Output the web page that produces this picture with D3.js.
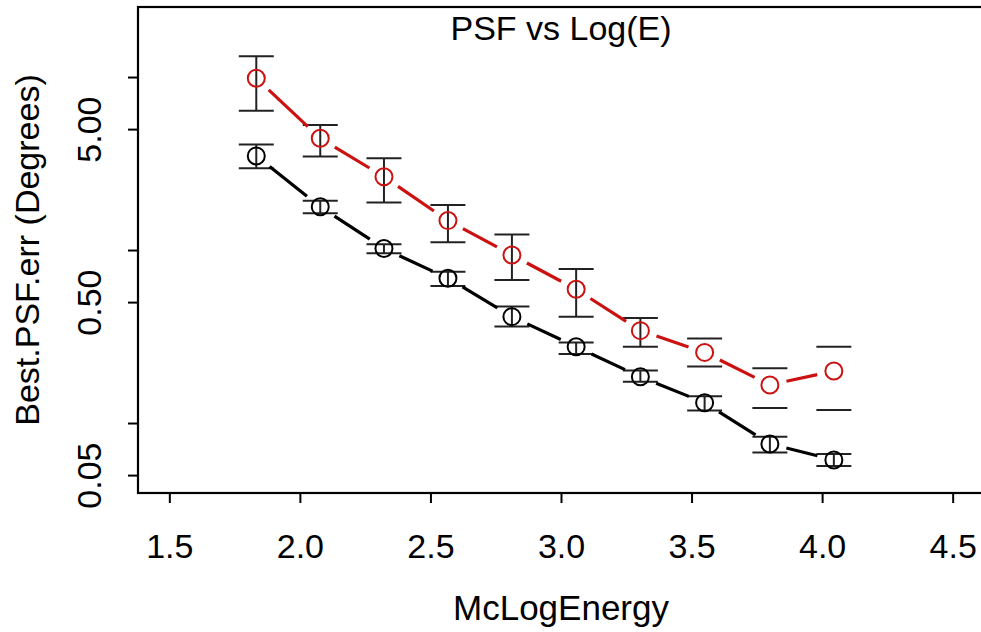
<!DOCTYPE html>
<html lang="en">
<head>
    <meta charset="UTF-8">
    <title>PSF vs Log(E)</title>
    <script src="https://d3js.org/d3.v7.min.js"></script>
    <style>
        body { margin: 0; background: #fff; }
        svg text { font-family: "Liberation Sans", Arial, sans-serif; fill: #000; }
    </style>
</head>
<body>
    <div id="chart"></div>

    <script>
        // Energy bins (McLogEnergy)
        const logE = [1.833, 2.078, 2.322, 2.567, 2.812, 3.058, 3.304, 3.55, 3.8, 4.045];

        // black series: value, upper and lower error bar ends
        const blackVal = [3.50, 1.78, 1.02, 0.687, 0.412, 0.276, 0.185, 0.131, 0.0757, 0.0612];
        const blackHi  = [4.08, 1.93, 1.08, 0.750, 0.471, 0.292, 0.201, 0.143, 0.0834, 0.0662];
        const blackLo  = [2.97, 1.63, 0.957, 0.620, 0.361, 0.251, 0.173, 0.118, 0.0675, 0.0565];

        // red series
        const redVal = [9.84, 4.43, 2.65, 1.48, 0.936, 0.593, 0.342, 0.256, 0.166, 0.200];
        const redHi  = [13.2, 5.28, 3.39, 1.82, 1.23, 0.778, 0.404, 0.308, 0.207, 0.276];
        const redLo  = [6.39, 3.47, 1.88, 1.11, 0.671, 0.412, 0.276, 0.212, 0.122, 0.119];
        // the last three red bars show only their caps
        const redStem = [true, true, true, true, true, true, true, false, false, false];

        const xTicks = [1.5, 2.0, 2.5, 3.0, 3.5, 4.0, 4.5];
        const yTicks = [0.05, 0.1, 0.5, 1, 5, 10];
        const yLabels = { 0.05: "0.05", 0.5: "0.50", 5: "5.00" };

        const width = 981, height = 632;
        const plot = { left: 138, right: 984, top: 7, bottom: 493 };

        const svg = d3.select("#chart").append("svg")
            .attr("width", width)
            .attr("height", height);

        const x = d3.scaleLinear().domain([1.38, 4.62]).range([plot.left, plot.right]);
        const y = d3.scaleLog().domain([0.0394, 25.4]).range([plot.bottom, plot.top]);

        // x axis
        const gx = svg.append("g")
            .attr("transform", "translate(0," + plot.bottom + ")")
            .call(d3.axisBottom(x).tickValues(xTicks).tickSize(10).tickFormat(d3.format(".1f")));
        gx.select(".domain").remove();
        gx.selectAll("line").attr("stroke", "#000").attr("stroke-width", 2);
        gx.selectAll("text")
            .attr("y", 65).attr("dy", 0)
            .style("font-size", "34px");

        // y axis (log)
        const gy = svg.append("g")
            .attr("transform", "translate(" + plot.left + ",0)")
            .call(d3.axisLeft(y).tickValues(yTicks).tickSize(10).tickFormat(d => yLabels[d] || ""));
        gy.select(".domain").remove();
        gy.selectAll("line").attr("stroke", "#000").attr("stroke-width", 2);
        gy.selectAll("text")
            .attr("x", 0).attr("dy", 0)
            .attr("text-anchor", "middle")
            .attr("transform", "translate(-37,0) rotate(-90)")
            .style("font-size", "34px");

        // frame
        svg.append("rect")
            .attr("x", plot.left).attr("y", plot.top)
            .attr("width", plot.right - plot.left).attr("height", plot.bottom - plot.top)
            .attr("fill", "none")
            .attr("stroke", "#000")
            .attr("stroke-width", 2.2);

        // titles
        svg.append("text")
            .attr("x", (plot.left + plot.right) / 2).attr("y", 40)
            .attr("text-anchor", "middle")
            .style("font-size", "34px")
            .text("PSF vs Log(E)");

        svg.append("text")
            .attr("x", (plot.left + plot.right) / 2).attr("y", 620)
            .attr("text-anchor", "middle")
            .style("font-size", "35px")
            .text("McLogEnergy");

        svg.append("text")
            .attr("transform", "translate(39," + (plot.top + plot.bottom) / 2 + ") rotate(-90)")
            .attr("text-anchor", "middle")
            .style("font-size", "34px")
            .text("Best.PSF.err (Degrees)");

        const capHalf = 17.5;
        const gap = 17;

        function drawSeries(vals, his, los, stems, color) {
            const pts = logE.map((e, i) => ({ e: e, v: vals[i], hi: his[i], lo: los[i], stem: stems ? stems[i] : true }));

            // error bars
            const bars = svg.append("g").attr("stroke", "#222").attr("stroke-width", 2);
            pts.forEach(p => {
                const cx = x(p.e);
                if (p.stem) {
                    bars.append("line")
                        .attr("x1", cx).attr("x2", cx)
                        .attr("y1", y(p.hi)).attr("y2", y(p.lo));
                }
                [p.hi, p.lo].forEach(v => {
                    bars.append("line")
                        .attr("x1", cx - capHalf).attr("x2", cx + capHalf)
                        .attr("y1", y(v)).attr("y2", y(v));
                });
            });

            // connecting segments with gaps around the symbols
            const segs = svg.append("g").attr("stroke", color).attr("stroke-width", 3.2).attr("stroke-linecap", "butt");
            for (let i = 0; i < pts.length - 1; i++) {
                const x0 = x(pts[i].e), y0 = y(pts[i].v);
                const x1 = x(pts[i + 1].e), y1 = y(pts[i + 1].v);
                const len = Math.hypot(x1 - x0, y1 - y0);
                if (len <= 2 * gap) continue;
                const ux = (x1 - x0) / len, uy = (y1 - y0) / len;
                segs.append("line")
                    .attr("x1", x0 + ux * gap).attr("y1", y0 + uy * gap)
                    .attr("x2", x1 - ux * gap).attr("y2", y1 - uy * gap);
            }

            // open circles
            svg.append("g").selectAll("circle")
                .data(pts)
                .enter().append("circle")
                .attr("cx", d => x(d.e))
                .attr("cy", d => y(d.v))
                .attr("r", 8.5)
                .attr("fill", "none")
                .attr("stroke", color)
                .attr("stroke-width", 2);
        }

        drawSeries(blackVal, blackHi, blackLo, null, "#000");
        drawSeries(redVal, redHi, redLo, redStem, "#cc1111");
    </script>
</body>
</html>
